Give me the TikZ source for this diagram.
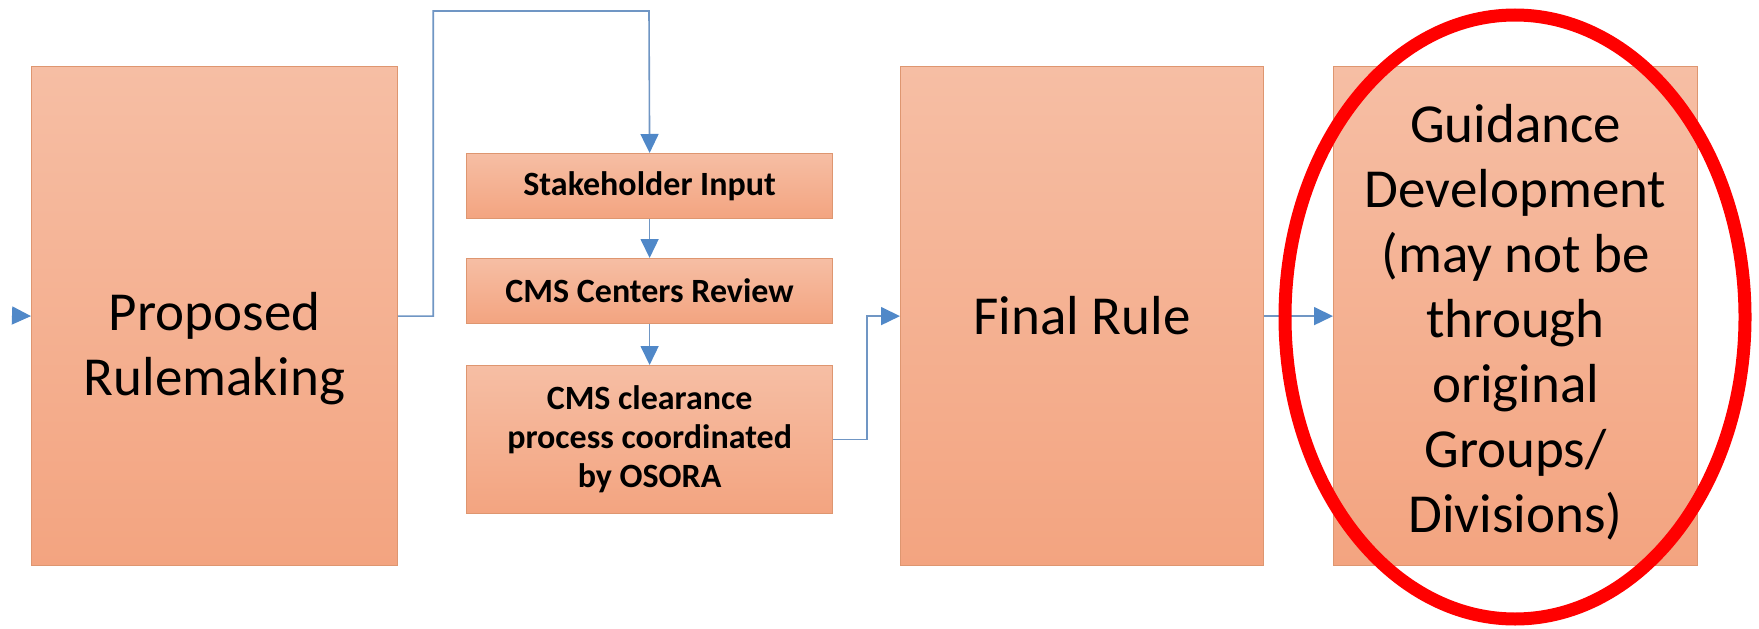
\documentclass[tikz,border=0pt]{standalone}
\usepackage{fontspec}
\setmainfont{Carlito}
\usetikzlibrary{arrows.meta,calc}
\definecolor{boxtop}{RGB}{246,190,164}
\definecolor{boxbot}{RGB}{243,164,128}
\definecolor{boxline}{RGB}{222,150,112}
\definecolor{connc}{RGB}{112,150,196}
\definecolor{tipc}{RGB}{80,136,200}
\begin{document}
\begin{tikzpicture}[x=1pt,y=-1pt,
  box/.style={draw=boxline, line width=1.2pt, top color=boxtop, bottom color=boxbot,
    inner sep=0pt, align=center, text=black, anchor=north west},
  bigtxt/.style={font=\fontsize{55}{65}\selectfont, align=center, text=black, inner sep=0pt},
  smalltxt/.style={font=\bfseries\fontsize{34}{39}\selectfont},
  conn/.style={draw=connc, line width=1.6pt,
    -{Triangle[length=19pt,width=18pt,color=tipc]}}]
\useasboundingbox (0,0) rectangle (1759,629);
\fill[white] (0,0) rectangle (1759,629);

\node[box, minimum width=366pt, minimum height=499pt] (prop) at (31,66) {};
\node[bigtxt] (proptxt) at ($(prop.center)+(0,33)$) {Proposed\\Rulemaking};
\node[box, smalltxt, minimum width=366pt, minimum height=65pt] (stake) at (466,153)
  {Stakeholder Input};
\node[box, smalltxt, minimum width=366pt, minimum height=65pt] (review) at (466,258)
  {CMS Centers Review};
\node[box, smalltxt, minimum width=366pt, minimum height=148pt] (clear) at (466,365)
  {CMS clearance\\process coordinated\\by OSORA};
\node[box, minimum width=363pt, minimum height=499pt] (final) at (900,66) {};
\node[bigtxt] (finaltxt) at (final.center) {Final Rule};
\node[box, minimum width=364pt, minimum height=499pt] (guide) at (1333,66) {};
\node[bigtxt] (guidetxt) at ($(guide.center)+(0,6)$)
  {Guidance\\Development\\(may not be\\through\\original\\Groups/\\Divisions)};

\coordinate (in) at (12,315.5);
\coordinate (top) at (649,11);

\draw[conn] (in) -- (prop.west);
\draw[conn] (prop.east) -- ++(35,0) |- (top) -- (stake.north);
\draw[conn] (stake.south) -- (review.north);
\draw[conn] (review.south) -- (clear.north);
\draw[conn] (clear.east) -- ++(34,0) |- (final.west);
\draw[conn] (final.east) -- (guide.west);

\draw[red, line width=13pt] (1515,317) ellipse [x radius=230pt, y radius=302pt];
\end{tikzpicture}
\end{document}
